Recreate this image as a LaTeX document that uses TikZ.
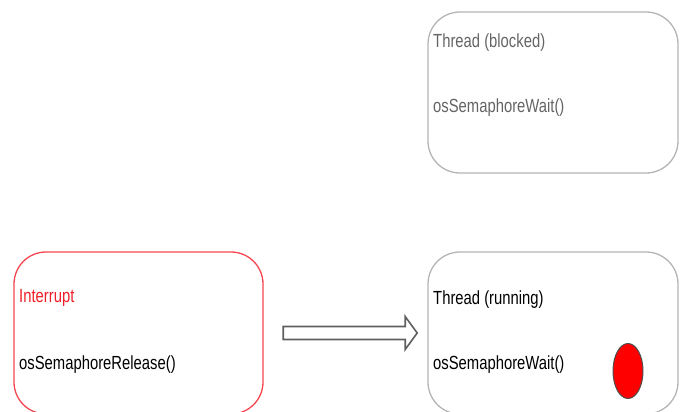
\documentclass[tikz,border=0pt]{standalone}
\usepackage{fontspec}
\usetikzlibrary{shapes.geometric,calc}
\newfontfamily\diafont[FakeStretch=0.78]{Liberation Sans}
\definecolor{boxgray}{RGB}{180,180,180}
\definecolor{txtgray}{RGB}{100,100,100}
\definecolor{boxred}{RGB}{245,70,80}
\definecolor{txtred}{RGB}{240,30,40}
\definecolor{arrgray}{RGB}{95,95,95}
\begin{document}
\begin{tikzpicture}[x=1pt,y=-1pt,
  statebox/.style={draw=boxgray,line width=1.3pt,rounded corners=32pt},
  redbox/.style={draw=boxred,line width=1.3pt,rounded corners=32pt},
  label/.style={anchor=west,inner sep=0pt,font=\diafont\fontsize{19}{21}\selectfont},
  blockedtxt/.style={label,text=txtgray},
  redtxt/.style={label,text=txtred}]
\useasboundingbox (0,0) rectangle (685,412);
\clip (0,0) rectangle (685,412);
% boxes
\draw[statebox] (428,12) rectangle (678,173);
\node[inner sep=0pt,minimum width=250pt,minimum height=161pt] (blocked) at (553,92.5) {};
\draw[redbox] (14,252) rectangle (263,414);
\node[inner sep=0pt,minimum width=249pt,minimum height=160pt] (interrupt) at (138.5,332) {};
\draw[statebox] (428,252) rectangle (678,414);
\node[inner sep=0pt,minimum width=250pt,minimum height=160pt] (running) at (553,332) {};
% texts
\node[blockedtxt] (t1) at (433,43) {Thread (blocked)};
\node[blockedtxt] (t2) at (433,108) {osSemaphoreWait()};
\node[redtxt] (t3) at (19,298) {Interrupt};
\node[label] (t4) at (19,365) {osSemaphoreRelease()};
\node[label] (t5) at (433,300) {Thread (running)};
\node[label] (t6) at (433,365) {osSemaphoreWait()};
% red token
\node[draw=black!70,fill=red,line width=1pt,ellipse,minimum width=30pt,minimum height=55pt,inner sep=0pt] (token) at (628,371) {};
% hollow arrow between boxes
\coordinate (a0) at ($(interrupt.east)+(20,1)$);
\draw[arrgray,line width=1.6pt,fill=white,line join=miter]
  (a0) ++(0,-6.5) -- ++(122,0) -- ++(0,-10) -- ++(12,16.5) -- ++(-12,16.5) -- ++(0,-10) -- ++(-122,0) -- cycle;
\end{tikzpicture}
\end{document}
